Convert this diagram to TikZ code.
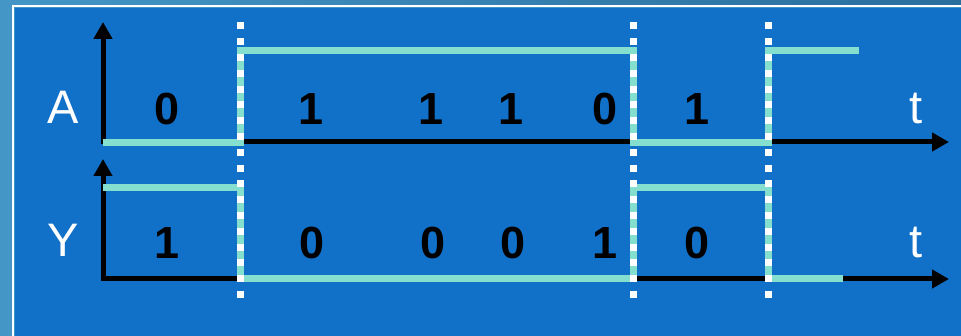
\documentclass[tikz,border=0pt]{standalone}
\usepackage{fontspec}
\setmainfont{Liberation Sans}
\usetikzlibrary{arrows.meta}
\definecolor{panel}{HTML}{1170C8}
\definecolor{frame}{HTML}{4396C6}
\definecolor{framedark}{HTML}{2A6E9E}
\definecolor{wavecol}{HTML}{85DFCE}

\begin{document}
\begin{tikzpicture}[x=1pt,y=-1pt,
  axis/.style={line width=5pt,line join=miter,
    {Triangle[width=18pt,length=17pt]}-{Triangle[width=18pt,length=17pt]}},
  wave/.style={draw=wavecol,line width=7pt,line join=miter},
  guide/.style={white,line width=7pt,dash pattern=on 7pt off 8.8pt},
  sig/.style={white,font=\fontsize{47}{50}\selectfont},
  bit/.style={font=\bfseries\fontsize{45}{48}\selectfont}]

% background
\useasboundingbox (0,0) rectangle (961,336);
\fill[frame] (0,0) rectangle (961,336);
\shade[left color=frame,right color=framedark] (0,0) rectangle (961,5);
\fill[white] (12,5) rectangle (961,336);
\fill[frame] (14,7) rectangle (961,336);
\fill[panel] (15,8) rectangle (961,336);

% axes
\coordinate (A0) at (103,142);
\coordinate (Aup) at (103,22);
\coordinate (Aend) at (949,142);
\coordinate (Y0) at (103,279);
\coordinate (Yup) at (103,159);
\coordinate (Yend) at (949,279);
\draw[axis] (Aup) -- (A0) -- (Aend);
\draw[axis] (Yup) -- (Y0) -- (Yend);

% signals
\draw[wave] (103,143) -- (240,143) -- (240,51) -- (633,51) -- (633,143)
  -- (768,143) -- (768,51) -- (859,51);
\draw[wave] (103,188) -- (240,188) -- (240,279) -- (633,279) -- (633,188)
  -- (768,188) -- (768,279) -- (843,279);

% edges
\foreach \x in {240,633,768}
  \draw[guide] (\x,22.5) -- (\x,300);

\node[sig] (lblA) at (63,107) {A};
\node[sig] (lblY) at (63,240) {Y};
\node[sig] (timeA) at (916,108) {t};
\node[sig] (timeY) at (916,242) {t};

\foreach \x/\b [count=\i] in {167/0,311/1,431/1,511/1,605/0,697/1}
  \node[bit] (inA\i) at (\x,109) {\b};
\foreach \x/\b [count=\i] in {167/1,312/0,433/0,513/0,605/1,697/0}
  \node[bit] (outY\i) at (\x,243) {\b};
\end{tikzpicture}
\end{document}
